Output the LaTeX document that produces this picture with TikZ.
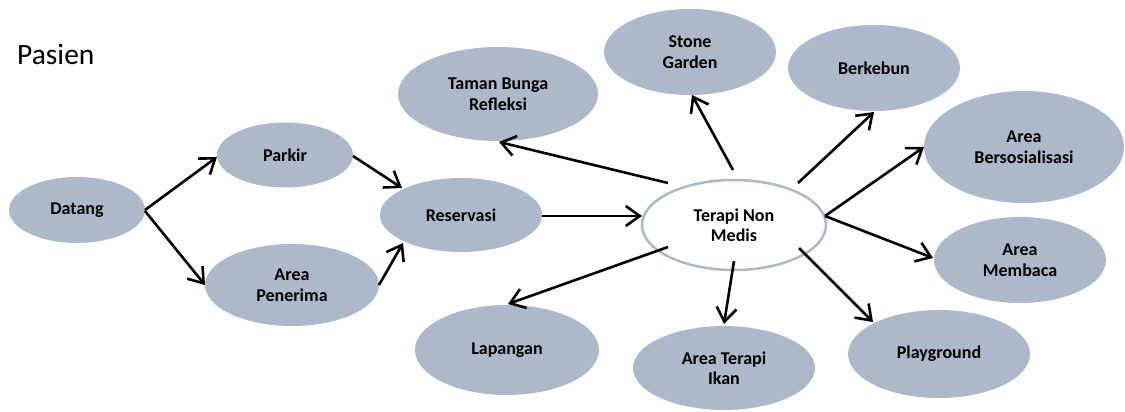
\documentclass[tikz,border=0pt]{standalone}
\usepackage{fontspec}
\setmainfont{Carlito}
\usetikzlibrary{shapes.geometric,arrows.meta,calc}
\definecolor{bluegray}{RGB}{173,185,202}
\begin{document}
\begin{tikzpicture}[x=1pt,y=-1pt,
  oval/.style={ellipse,fill=bluegray,inner sep=0pt,align=center,font=\fontsize{18}{20.5}\selectfont\bfseries},
  whiteoval/.style={oval,fill=white,draw=bluegray,line width=2.5pt},
  arr/.style={line width=2.6pt,-{Straight Barb[length=14pt,width=20pt]}}]
\useasboundingbox (0,0) rectangle (1125,412);
\node[anchor=base west,font=\fontsize{29.5}{34}\selectfont,inner sep=0pt] (pasien) at (17,65) {Pasien};
\node[oval,minimum width=136pt,minimum height=66pt] (datang) at (77,210) {Datang};
\node[oval,minimum width=136pt,minimum height=65pt] (parkir) at (285,155) {Parkir};
\node[oval,minimum width=174pt,minimum height=82pt] (penerima) at (292,285) {Area\\Penerima};
\node[oval,minimum width=162pt,minimum height=74pt] (reservasi) at (461,215) {Reservasi};
\node[oval,minimum width=200pt,minimum height=94pt] (taman) at (498,94) {Taman Bunga\\Refleksi};
\node[oval,minimum width=172pt,minimum height=86pt] (stone) at (690,52) {Stone\\Garden};
\node[whiteoval,minimum width=184pt,minimum height=90pt] (terapi) at (734,225) {Terapi Non\\Medis};
\node[oval,minimum width=172pt,minimum height=86pt] (berkebun) at (874,68) {Berkebun};
\node[oval,minimum width=200pt,minimum height=112pt] (bersos) at (1024,147) {Area\\Bersosialisasi};
\node[oval,minimum width=172pt,minimum height=86pt] (membaca) at (1020,260) {Area\\Membaca};
\node[oval,minimum width=182pt,minimum height=88pt] (playground) at (939,354) {Playground};
\node[oval,minimum width=182pt,minimum height=84pt] (ikan) at (724,368) {Area Terapi\\Ikan};
\node[oval,minimum width=184pt,minimum height=90pt] (lapangan) at (507,350) {Lapangan};
\draw[arr] ($(datang)+(68,0)$) -- ($(parkir)+(-68,2)$);
\draw[arr] ($(datang)+(68,1)$) -- ($(penerima)+(-87,0)$);
\draw[arr] ($(parkir)+(68,1)$) -- ($(reservasi)+(-59,-27)$);
\draw[arr] ($(penerima)+(87,0)$) -- ($(reservasi)+(-58,28)$);
\draw[arr] ($(reservasi)+(81,1)$) -- ($(terapi)+(-92,-9)$);
\draw[arr] ($(terapi)+(-66,-42)$) -- ($(taman)+(1,48)$);
\draw[arr] ($(terapi)+(-1,-55)$) -- ($(stone)+(2,43)$);
\draw[arr] ($(terapi)+(64,-42)$) -- ($(berkebun)+(0,44)$);
\draw[arr] ($(terapi)+(91,-9)$) -- ($(bersos)+(-100,0)$);
\draw[arr] ($(terapi)+(91,-9)$) -- ($(membaca)+(-87,-2)$);
\draw[arr] ($(terapi)+(65,23)$) -- ($(playground)+(-66,-32)$);
\draw[arr] ($(terapi)+(0,36)$) -- ($(ikan)+(0,-44)$);
\draw[arr] ($(terapi)+(-66,22)$) -- ($(lapangan)+(1,-46)$);
\end{tikzpicture}
\end{document}
